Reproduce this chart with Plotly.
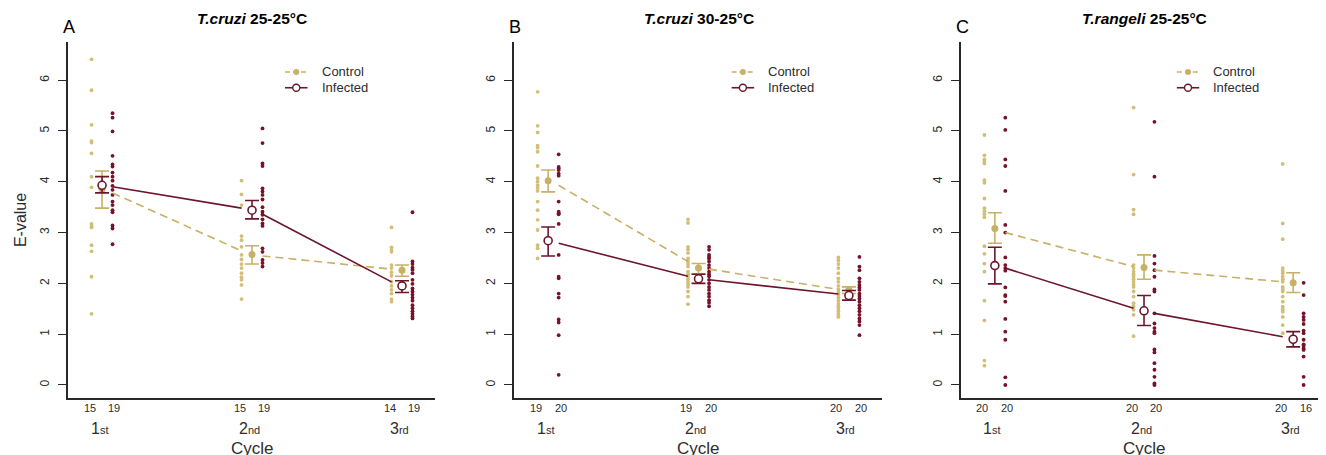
import plotly.graph_objects as go

# ---------------- data ----------------
cycles = [1, 2, 3]
cycle_num = ["1", "2", "3"]
cycle_suffix = ["st", "nd", "rd"]
panel_letters = ["A", "B", "C"]
panel_titles = ["<b><i>T.cruzi</i> 25-25°C</b>",
                "<b><i>T.cruzi</i> 30-25°C</b>",
                "<b><i>T.rangeli</i> 25-25°C</b>"]

# sample sizes
A_n_ctrl = [15, 15, 14]
A_n_inf = [19, 19, 19]
B_n_ctrl = [19, 19, 20]
B_n_inf = [20, 20, 20]
C_n_ctrl = [20, 20, 20]
C_n_inf = [20, 20, 16]

# individual E-values (panel A)
A_ctrl_c1 = [6.41, 5.80, 5.12, 4.80, 4.77, 4.56, 4.10, 3.89, 3.17, 3.12, 3.10, 2.75, 2.63, 2.13, 1.40]
A_ctrl_c2 = [4.02, 3.75, 3.54, 2.93, 2.85, 2.72, 2.56, 2.47, 2.38, 2.30, 2.20, 2.12, 2.07, 1.97, 1.69]
A_ctrl_c3 = [3.10, 2.71, 2.66, 2.62, 2.36, 2.30, 2.22, 2.15, 2.03, 1.95, 1.87, 1.80, 1.69, 1.64]
A_inf_c1 = [5.35, 5.26, 4.99, 4.51, 4.34, 4.30, 4.18, 4.10, 4.02, 3.92, 3.84, 3.74, 3.61, 3.54, 3.44, 3.40, 3.14, 3.08, 2.77]
A_inf_c2 = [5.05, 4.76, 4.36, 4.31, 3.87, 3.81, 3.74, 3.65, 3.50, 3.41, 3.35, 3.26, 3.18, 3.13, 2.69, 2.62, 2.46, 2.40, 2.33]
A_inf_c3 = [3.40, 2.43, 2.38, 2.31, 2.27, 2.20, 2.07, 1.99, 1.90, 1.84, 1.78, 1.72, 1.66, 1.57, 1.51, 1.45, 1.40, 1.35, 1.31]

# panel B
B_ctrl_c1 = [5.77, 5.10, 4.97, 4.71, 4.67, 4.59, 4.31, 4.07, 4.00, 3.93, 3.88, 3.82, 3.61, 3.44, 3.25, 3.05, 2.75, 2.69, 2.49]
B_ctrl_c2 = [3.26, 3.19, 2.72, 2.67, 2.60, 2.49, 2.43, 2.38, 2.33, 2.23, 2.18, 2.13, 2.08, 2.03, 1.98, 1.93, 1.84, 1.74, 1.59]
B_ctrl_c3 = [2.51, 2.45, 2.38, 2.30, 2.20, 2.10, 2.03, 1.95, 1.88, 1.82, 1.78, 1.72, 1.66, 1.60, 1.55, 1.50, 1.45, 1.40, 1.36, 1.34]
B_inf_c1 = [4.54, 4.29, 4.26, 4.23, 4.16, 4.12, 3.61, 3.41, 3.38, 3.36, 3.17, 2.56, 2.13, 2.10, 1.80, 1.72, 1.29, 1.23, 0.98, 0.20]
B_inf_c2 = [2.72, 2.66, 2.56, 2.52, 2.49, 2.43, 2.36, 2.30, 2.23, 2.18, 2.14, 2.07, 2.00, 1.93, 1.87, 1.80, 1.74, 1.67, 1.62, 1.55]
B_inf_c3 = [2.52, 2.33, 2.26, 2.10, 2.03, 1.97, 1.92, 1.87, 1.80, 1.75, 1.70, 1.64, 1.57, 1.51, 1.45, 1.38, 1.31, 1.25, 1.18, 0.98]

# panel C
C_ctrl_c1 = [4.92, 4.52, 4.44, 4.40, 4.36, 4.03, 3.98, 3.67, 3.48, 3.42, 3.36, 3.30, 2.73, 2.58, 2.39, 2.23, 1.66, 1.27, 0.48, 0.38]
C_ctrl_c2 = [5.46, 4.14, 3.45, 3.36, 2.36, 2.30, 2.23, 2.18, 2.13, 2.08, 2.03, 1.98, 1.93, 1.84, 1.74, 1.61, 1.55, 1.48, 1.38, 0.96]
C_ctrl_c3 = [4.35, 3.18, 2.87, 2.30, 2.25, 2.20, 2.13, 2.08, 2.03, 1.93, 1.88, 1.84, 1.74, 1.64, 1.54, 1.49, 1.44, 1.34, 1.18, 1.02]
C_inf_c1 = [5.26, 5.02, 4.44, 4.31, 3.82, 3.15, 3.00, 2.51, 2.36, 2.30, 2.25, 1.92, 1.77, 1.75, 1.64, 1.30, 1.05, 0.89, 0.15, 0.00]
C_inf_c2 = [5.18, 4.10, 2.54, 2.39, 2.26, 2.13, 1.88, 1.84, 1.41, 1.21, 1.12, 1.05, 1.02, 0.70, 0.64, 0.43, 0.30, 0.16, 0.03, 0.00]
C_inf_c3 = [2.01, 1.77, 1.41, 1.34, 1.28, 1.20, 1.07, 1.02, 0.89, 0.80, 0.77, 0.72, 0.69, 0.56, 0.16, 0.00]

# means and error bar limits
A_ctrl_mean = [3.85, 2.57, 2.26]; A_ctrl_lo = [3.48, 2.38, 2.14]; A_ctrl_hi = [4.21, 2.74, 2.36]
A_inf_mean = [3.93, 3.44, 1.95];  A_inf_lo = [3.78, 3.27, 1.82];  A_inf_hi = [4.10, 3.63, 2.05]
B_ctrl_mean = [4.02, 2.30, 1.87]; B_ctrl_lo = [3.80, 2.19, 1.80]; B_ctrl_hi = [4.23, 2.39, 1.93]
B_inf_mean = [2.84, 2.09, 1.76];  B_inf_lo = [2.54, 2.00, 1.67];  B_inf_hi = [3.11, 2.18, 1.86]
C_ctrl_mean = [3.08, 2.31, 2.01]; C_ctrl_lo = [2.79, 2.08, 1.82]; C_ctrl_hi = [3.39, 2.56, 2.21]
C_inf_mean = [2.35, 1.46, 0.90];  C_inf_lo = [1.99, 1.17, 0.75];  C_inf_hi = [2.71, 1.76, 1.05]

# fitted trend segments between cycles (start value, end value)
A_ctrl_seg_start = [3.78, 2.54]; A_ctrl_seg_end = [2.64, 2.28]
A_inf_seg_start = [3.90, 3.36];  A_inf_seg_end = [3.48, 2.03]
B_ctrl_seg_start = [3.93, 2.28]; B_ctrl_seg_end = [2.43, 1.88]
B_inf_seg_start = [2.79, 2.07];  B_inf_seg_end = [2.14, 1.79]
C_ctrl_seg_start = [3.00, 2.26]; C_ctrl_seg_end = [2.33, 2.03]
C_inf_seg_start = [2.30, 1.41];  C_inf_seg_end = [1.51, 0.95]

y_ticks = [0, 1, 2, 3, 4, 5, 6]

panels = [
    dict(n_ctrl=A_n_ctrl, n_inf=A_n_inf,
         ctrl=[A_ctrl_c1, A_ctrl_c2, A_ctrl_c3], inf=[A_inf_c1, A_inf_c2, A_inf_c3],
         cm=A_ctrl_mean, clo=A_ctrl_lo, chi=A_ctrl_hi, im=A_inf_mean, ilo=A_inf_lo, ihi=A_inf_hi,
         cs=A_ctrl_seg_start, ce=A_ctrl_seg_end, is_=A_inf_seg_start, ie=A_inf_seg_end),
    dict(n_ctrl=B_n_ctrl, n_inf=B_n_inf,
         ctrl=[B_ctrl_c1, B_ctrl_c2, B_ctrl_c3], inf=[B_inf_c1, B_inf_c2, B_inf_c3],
         cm=B_ctrl_mean, clo=B_ctrl_lo, chi=B_ctrl_hi, im=B_inf_mean, ilo=B_inf_lo, ihi=B_inf_hi,
         cs=B_ctrl_seg_start, ce=B_ctrl_seg_end, is_=B_inf_seg_start, ie=B_inf_seg_end),
    dict(n_ctrl=C_n_ctrl, n_inf=C_n_inf,
         ctrl=[C_ctrl_c1, C_ctrl_c2, C_ctrl_c3], inf=[C_inf_c1, C_inf_c2, C_inf_c3],
         cm=C_ctrl_mean, clo=C_ctrl_lo, chi=C_ctrl_hi, im=C_inf_mean, ilo=C_inf_lo, ihi=C_inf_hi,
         cs=C_ctrl_seg_start, ce=C_ctrl_seg_end, is_=C_inf_seg_start, ie=C_inf_seg_end),
]

# ---------------- style ----------------
FONT = "Liberation Sans, Arial, sans-serif"
CTRL = "rgb(200,176,102)"
CTRL_DOT = "rgb(210,190,120)"
INF = "rgb(108,22,44)"
INF_DOT = "rgb(118,18,42)"
AXIS = "rgb(40,40,40)"
TXT = "rgb(45,45,45)"
DOT_OFF = 0.07
N_OFF = 0.083
SEG_OFF = 0.07
XR = [0.773, 3.22]
YR = [-0.256, 6.75]
PAGE_OFF = 8               # default page margin of the html body
W, H = 1326 - PAGE_OFF, 455 - PAGE_OFF
def px(v):
    return (v - PAGE_OFF) / W
domains = [[px(68), px(435)], [px(514), px(882)], [px(961), 1.0]]

fig = go.Figure()
annotations = []

for k, p in enumerate(panels):
    xa = "x" if k == 0 else f"x{k+1}"
    ya = "y" if k == 0 else f"y{k+1}"

    # raw dots
    for i, c in enumerate(cycles):
        fig.add_trace(go.Scatter(x=[c - DOT_OFF] * len(p["ctrl"][i]), y=p["ctrl"][i], mode="markers",
                                 marker=dict(size=3.8, color=CTRL_DOT), xaxis=xa, yaxis=ya,
                                 showlegend=False, hoverinfo="y"))
        fig.add_trace(go.Scatter(x=[c + DOT_OFF] * len(p["inf"][i]), y=p["inf"][i], mode="markers",
                                 marker=dict(size=3.8, color=INF_DOT), xaxis=xa, yaxis=ya,
                                 showlegend=False, hoverinfo="y"))

    # trend segments
    def seg_xy(starts, ends):
        xs, ys = [], []
        for j in range(len(starts)):
            xs += [cycles[j] + SEG_OFF, cycles[j + 1] - SEG_OFF, None]
            ys += [starts[j], ends[j], None]
        return xs, ys

    sx, sy = seg_xy(p["cs"], p["ce"])
    fig.add_trace(go.Scatter(x=sx, y=sy, mode="lines", line=dict(color=CTRL, width=1.6, dash="8px,5px"),
                             xaxis=xa, yaxis=ya, showlegend=False, hoverinfo="skip"))
    sx, sy = seg_xy(p["is_"], p["ie"])
    fig.add_trace(go.Scatter(x=sx, y=sy, mode="lines", line=dict(color=INF, width=1.6),
                             xaxis=xa, yaxis=ya, showlegend=False, hoverinfo="skip"))

    # means with error bars
    fig.add_trace(go.Scatter(
        x=cycles, y=p["cm"], mode="markers",
        marker=dict(size=7, color=CTRL),
        error_y=dict(type="data", symmetric=False,
                     array=[h - m for h, m in zip(p["chi"], p["cm"])],
                     arrayminus=[m - l for m, l in zip(p["cm"], p["clo"])],
                     color=CTRL, thickness=1.6, width=7),
        xaxis=xa, yaxis=ya, showlegend=False))
    fig.add_trace(go.Scatter(
        x=cycles, y=p["im"], mode="markers",
        marker=dict(size=8, color="white", line=dict(color=INF, width=1.6)),
        error_y=dict(type="data", symmetric=False,
                     array=[h - m for h, m in zip(p["ihi"], p["im"])],
                     arrayminus=[m - l for m, l in zip(p["im"], p["ilo"])],
                     color=INF, thickness=1.6, width=7),
        xaxis=xa, yaxis=ya, showlegend=False))

    # manual legend
    lx0, lx1, lxt = 2.22, 2.37, 2.45
    for (ly, col, dash, mcol, label) in [
            (6.16, CTRL, "5px,3px", CTRL, "Control"),
            (5.85, INF, "solid", "white", "Infected")]:
        fig.add_trace(go.Scatter(x=[lx0, lx1], y=[ly, ly], mode="lines",
                                 line=dict(color=col, width=1.6, dash=dash),
                                 xaxis=xa, yaxis=ya, showlegend=False, hoverinfo="skip"))
        fig.add_trace(go.Scatter(x=[(lx0 + lx1) / 2], y=[ly], mode="markers",
                                 marker=dict(size=6 if mcol != "white" else 7, color=mcol,
                                             line=dict(color=col, width=1.4 if mcol == "white" else 0)),
                                 xaxis=xa, yaxis=ya, showlegend=False, hoverinfo="skip"))
        annotations.append(dict(x=lxt, y=ly, xref=xa, yref=ya, text=label, showarrow=False,
                                xanchor="left", yanchor="middle",
                                font=dict(size=13, color=TXT, family=FONT)))

    # counts under axis
    for i, c in enumerate(cycles):
        for off, n in [(-N_OFF, p["n_ctrl"][i]), (N_OFF, p["n_inf"][i])]:
            annotations.append(dict(x=c + off, y=0, xref=xa, yref="paper", text=str(n),
                                    showarrow=False, xanchor="center", yanchor="top", yshift=-2,
                                    font=dict(size=11, color=TXT, family=FONT)))
        annotations.append(dict(x=c, y=0, xref=xa, yref="paper",
                                text=f"{cycle_num[i]}<span style='font-size:11px'>{cycle_suffix[i]}</span>",
                                showarrow=False, xanchor="center", yanchor="top", yshift=-20, xshift=-3,
                                font=dict(size=16, color=TXT, family=FONT)))
    annotations.append(dict(x=2, y=0, xref=xa, yref="paper", text="Cycle", showarrow=False,
                            xanchor="center", yanchor="top", yshift=-39,
                            font=dict(size=17, color=TXT, family=FONT)))
    # title and panel letter
    annotations.append(dict(x=2, y=1, xref=xa, yref="paper", text=panel_titles[k], showarrow=False,
                            xanchor="center", yanchor="bottom", yshift=13,
                            font=dict(size=15.5, color="black", family=FONT)))
    annotations.append(dict(x=domains[k][0], y=1, xref="paper", yref="paper", text=panel_letters[k],
                            showarrow=False, xanchor="center", yanchor="bottom", yshift=3, xshift=1,
                            font=dict(size=18, color="black", family=FONT)))

    axis_x = dict(domain=domains[k], range=XR, showline=True, linecolor=AXIS, linewidth=1.5,
                  showgrid=False, zeroline=False, showticklabels=False, ticks="", fixedrange=True)
    axis_y = dict(domain=[0, 1], range=YR, showline=True, linecolor=AXIS, linewidth=1.5,
                  showgrid=False, zeroline=False, tickvals=y_ticks, ticks="outside", ticklen=8,
                  tickwidth=1.3, tickcolor=AXIS, tickangle=-90, ticklabelstandoff=4,
                  tickfont=dict(size=12, color=TXT, family=FONT), anchor=xa, fixedrange=True)
    if k == 0:
        axis_y["title"] = dict(text="E-value", font=dict(size=16, color=TXT, family=FONT), standoff=8)
    axis_x["anchor"] = ya
    fig.update_layout(**{("xaxis" if k == 0 else f"xaxis{k+1}"): axis_x,
                         ("yaxis" if k == 0 else f"yaxis{k+1}"): axis_y})

fig.update_layout(
    width=W, height=H,
    margin=dict(l=0, r=0, t=42 - PAGE_OFF, b=H - (398 - PAGE_OFF)),
    paper_bgcolor="white", plot_bgcolor="white",
    showlegend=False,
    annotations=annotations,
    font=dict(family=FONT, color=TXT),
)

fig.write_html("out.html")
